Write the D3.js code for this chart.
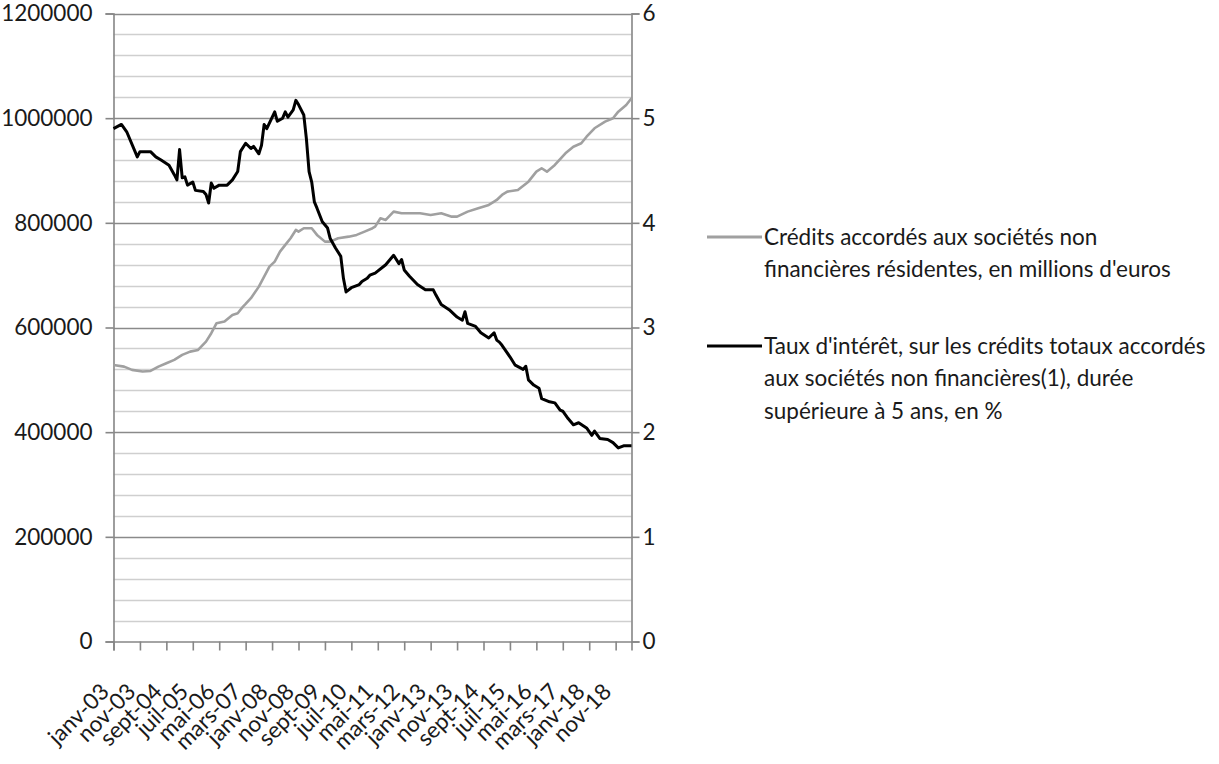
<!DOCTYPE html>
<html>
<head>
<meta charset="utf-8">
<script src="https://cdn.jsdelivr.net/npm/d3@7"></script>
<style>
  body { margin: 0; background: #fff; }
  text { font-family: Lato, "Open Sans", sans-serif; fill: #1a1a1a; }
  .domain { stroke: #868686; }
</style>
</head>
<body>
<svg id="chart" width="1219" height="764"></svg>
<script>
// x axis labels, one every 10 months starting janv-03
const tickLabels = ["janv-03", "nov-03", "sept-04", "juil-05", "mai-06", "mars-07", "janv-08", "nov-08",
  "sept-09", "juil-10", "mai-11", "mars-12", "janv-13", "nov-13", "sept-14", "juil-15", "mai-16",
  "mars-17", "janv-18", "nov-18"];
const firstMonth = "2003-01";
const lastMonth = "2019-05";

// credits to non-financial corporations, millions of euros (left axis)
const creditMonths = ["2003-01", "2003-05", "2003-08", "2003-12", "2004-03", "2004-06", "2004-09", "2004-12",
  "2005-03", "2005-06", "2005-09", "2005-12", "2006-02", "2006-04", "2006-07", "2006-10", "2006-12",
  "2007-02", "2007-03", "2007-05", "2007-08", "2007-10", "2007-12", "2008-02", "2008-04", "2008-06",
  "2008-08", "2008-10", "2008-11", "2009-01", "2009-04", "2009-06", "2009-09", "2009-11", "2010-02",
  "2010-06", "2010-09", "2010-12", "2011-03", "2011-04", "2011-06", "2011-08", "2011-11", "2012-02",
  "2012-06", "2012-09", "2013-01", "2013-05", "2013-09", "2013-11", "2014-03", "2014-07", "2014-11",
  "2015-01", "2015-02", "2015-04", "2015-06", "2015-10", "2016-02", "2016-05", "2016-07", "2016-09",
  "2016-12", "2017-04", "2017-07", "2017-10", "2017-12", "2018-03", "2018-07", "2018-10", "2018-12",
  "2019-03", "2019-05"];
const creditValues = [528500, 525300, 519000, 515800, 517000, 525300, 531800, 538100,
  547600, 553900, 557200, 573100, 589100, 608200, 611300, 624000, 627300,
  639900, 645000, 656000, 678100, 697200, 716300, 725900, 745000, 757800,
  770600, 786400, 783200, 789700, 789700, 776900, 764100, 764100, 770600,
  773600, 776900, 783200, 789700, 792700, 808800, 805500, 821400, 818300,
  818300, 818300, 815100, 818300, 811800, 811800, 821400, 827900, 834200,
  840500, 843700, 853300, 859600, 862800, 878700, 897800, 904300, 897800,
  910600, 932900, 945500, 952000, 964600, 980700, 993300, 999800, 1012400,
  1025200, 1038000];

// interest rate, loans > 5 years, % (right axis)
const rateMonths = ["2003-01", "2003-04", "2003-06", "2003-10", "2003-11", "2004-03", "2004-05", "2004-07",
  "2004-10", "2004-12", "2005-01", "2005-02", "2005-03", "2005-04", "2005-05", "2005-07", "2005-08",
  "2005-11", "2005-12", "2006-01", "2006-02", "2006-03", "2006-05", "2006-08", "2006-10", "2006-12",
  "2007-01", "2007-03", "2007-05", "2007-06", "2007-08", "2007-09", "2007-10", "2007-11", "2008-02",
  "2008-03", "2008-05", "2008-06", "2008-07", "2008-09", "2008-10", "2008-11", "2009-01", "2009-02",
  "2009-03", "2009-04", "2009-05", "2009-06", "2009-08", "2009-10", "2009-11", "2010-01", "2010-03",
  "2010-04", "2010-05", "2010-07", "2010-10", "2010-11", "2011-01", "2011-02", "2011-04", "2011-08",
  "2011-11", "2012-01", "2012-02", "2012-03", "2012-05", "2012-08", "2012-11", "2013-02", "2013-03",
  "2013-05", "2013-08", "2013-11", "2014-01", "2014-02", "2014-03", "2014-06", "2014-08", "2014-11",
  "2015-01", "2015-02", "2015-03", "2015-04", "2015-07", "2015-09", "2015-12", "2016-01", "2016-02",
  "2016-04", "2016-06", "2016-07", "2016-10", "2016-12", "2017-02", "2017-03", "2017-05", "2017-07",
  "2017-09", "2017-12", "2018-02", "2018-03", "2018-05", "2018-08", "2018-10", "2018-12", "2019-02",
  "2019-05"];
const rateValues = [4.90, 4.94, 4.87, 4.63, 4.68, 4.68, 4.63, 4.60,
  4.55, 4.46, 4.41, 4.70, 4.43, 4.44, 4.36, 4.39, 4.31,
  4.30, 4.27, 4.19, 4.38, 4.33, 4.36, 4.36, 4.41, 4.49,
  4.68, 4.76, 4.71, 4.73, 4.66, 4.74, 4.94, 4.90, 5.06,
  4.97, 5.00, 5.06, 5.01, 5.08, 5.17, 5.13, 5.03, 4.80,
  4.49, 4.39, 4.20, 4.14, 4.01, 3.95, 3.85, 3.76, 3.68,
  3.47, 3.34, 3.38, 3.41, 3.44, 3.47, 3.50, 3.52, 3.60,
  3.69, 3.61, 3.65, 3.55, 3.49, 3.41, 3.36, 3.36, 3.31,
  3.22, 3.17, 3.10, 3.07, 3.15, 3.04, 3.01, 2.95, 2.90,
  2.95, 2.88, 2.86, 2.83, 2.72, 2.64, 2.60, 2.63, 2.50,
  2.45, 2.42, 2.32, 2.29, 2.28, 2.21, 2.20, 2.13, 2.07,
  2.09, 2.04, 1.97, 2.01, 1.94, 1.93, 1.90, 1.85, 1.87,
  1.87];

const legendCredit = ["Crédits accordés aux sociétés non", "financières résidentes, en millions d'euros"];
const legendRate = ["Taux d'intérêt, sur les crédits totaux accordés", "aux sociétés non financières(1), durée",
  "supérieure à 5 ans, en %"];

// month string -> index since first month
function monthIndex(s) {
  const [yr, mo] = s.split("-").map(Number);
  const [y0, m0] = firstMonth.split("-").map(Number);
  return (yr - y0) * 12 + (mo - m0);
}

const plot = { left: 113.5, right: 631.5, top: 13.5, bottom: 641.5 };
const fontSize = 22.5;
const svg = d3.select("#chart");

const x = d3.scaleLinear()
  .domain([0, monthIndex(lastMonth)])
  .range([plot.left, plot.right]);
const yLeft = d3.scaleLinear()
  .domain([0, 1200000])
  .range([plot.bottom, plot.top]);
const yRight = d3.scaleLinear()
  .domain([0, 6])
  .range([plot.bottom, plot.top]);

// minor gridlines every 40000
const minor = d3.range(0, 1200001, 40000).filter(v => v % 200000 !== 0);
svg.append("g").selectAll("line")
  .data(minor).join("line")
    .attr("x1", plot.left).attr("x2", plot.right)
    .attr("y1", d => Math.round(yLeft(d)) + 0.5).attr("y2", d => Math.round(yLeft(d)) + 0.5)
    .attr("stroke", "#cfcfcf")
    .attr("stroke-width", 1.6);

// major gridlines
const major = d3.range(200000, 1200001, 200000);
svg.append("g").selectAll("line")
  .data(major).join("line")
    .attr("x1", plot.left).attr("x2", plot.right)
    .attr("y1", d => Math.round(yLeft(d)) + 0.5).attr("y2", d => Math.round(yLeft(d)) + 0.5)
    .attr("stroke", "#8a8a8a")
    .attr("stroke-width", 1.4);

// left axis
const leftAxis = svg.append("g")
  .attr("transform", "translate(" + plot.left + ",0)")
  .call(d3.axisLeft(yLeft).tickValues(d3.range(0, 1200001, 200000)).tickSize(8).tickPadding(13)
    .tickFormat(d3.format("d")));

// right axis
const rightAxis = svg.append("g")
  .attr("transform", "translate(" + plot.right + ",0)")
  .call(d3.axisRight(yRight).tickValues(d3.range(0, 7)).tickSize(8).tickPadding(3)
    .tickFormat(d3.format("d")));

// bottom axis
const tickIdx = tickLabels.map((d, i) => i * 10);
const bottomAxis = svg.append("g")
  .attr("transform", "translate(0," + plot.bottom + ")")
  .call(d3.axisBottom(x).tickValues(tickIdx).tickSize(9).tickFormat((d, i) => tickLabels[i]));

[leftAxis, rightAxis, bottomAxis].forEach(g => {
  g.select(".domain").attr("stroke", "#868686").attr("stroke-width", 1.6);
  g.selectAll(".tick line").attr("stroke", "#868686").attr("stroke-width", 1.6);
  g.selectAll("text").attr("font-size", fontSize).attr("fill", "#1a1a1a");
});

bottomAxis.selectAll("text")
  .attr("text-anchor", "end")
  .attr("transform", "translate(-9,46) rotate(-45)")
  .attr("dy", "0.35em")
  .attr("y", 0);

// lines
const creditData = creditMonths.map((m, i) => ({ i: monthIndex(m), v: creditValues[i] }));
const rateData = rateMonths.map((m, i) => ({ i: monthIndex(m), v: rateValues[i] }));

svg.append("path")
  .datum(creditData)
  .attr("fill", "none")
  .attr("stroke", "#a0a0a0")
  .attr("stroke-width", 2.6)
  .attr("stroke-linejoin", "round")
  .attr("d", d3.line().x(d => x(d.i)).y(d => yLeft(d.v)));

svg.append("path")
  .datum(rateData)
  .attr("fill", "none")
  .attr("stroke", "#000")
  .attr("stroke-width", 3)
  .attr("stroke-linejoin", "round")
  .attr("d", d3.line().x(d => x(d.i)).y(d => yRight(d.v)));

// legend
const legend = svg.append("g").attr("font-size", fontSize);
function legendItem(y0, color, lines) {
  legend.append("line")
    .attr("x1", 707).attr("x2", 762)
    .attr("y1", y0).attr("y2", y0)
    .attr("stroke", color).attr("stroke-width", 3);
  legend.selectAll(null)
    .data(lines).join("text")
      .attr("x", 764)
      .attr("y", (d, i) => y0 + i * 32.5)
      .attr("dy", "0.35em")
      .text(d => d);
}
legendItem(237, "#a0a0a0", legendCredit);
legendItem(346, "#000", legendRate);
</script>
</body>
</html>
